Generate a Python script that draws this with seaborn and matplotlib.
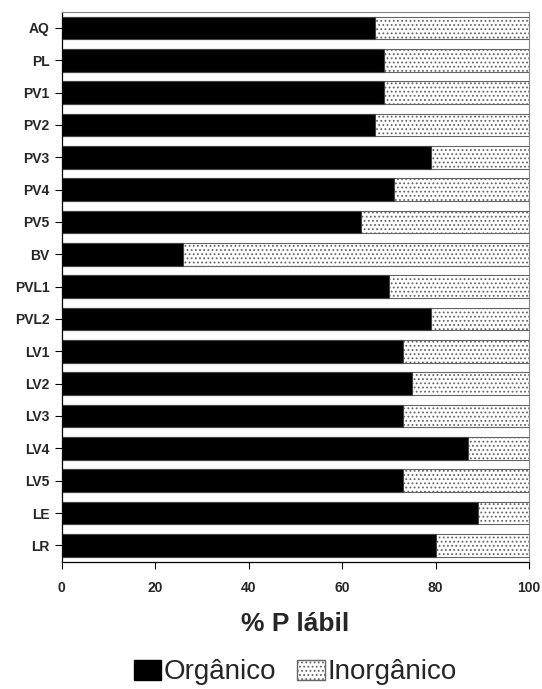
import matplotlib
matplotlib.use("Agg")
import matplotlib.pyplot as plt
import seaborn as sns
import pandas as pd
from matplotlib.patches import Patch

categories = ["AQ", "PL", "PV1", "PV2", "PV3", "PV4", "PV5", "BV", "PVL1", "PVL2",
              "LV1", "LV2", "LV3", "LV4", "LV5", "LE", "LR"]
organico = [67, 69, 69, 67, 79, 71, 64, 26, 70, 79, 73, 75, 73, 87, 73, 89, 80]
inorganico = [100 - v for v in organico]
xticks = [0, 20, 40, 60, 80, 100]

sns.set_style("white")
plt.rcParams['font.family'] = ['Liberation Sans', 'DejaVu Sans']
plt.rcParams['hatch.color'] = '#555555'
plt.rcParams['hatch.linewidth'] = 0.8

df = pd.DataFrame({"cat": categories, "org": organico, "inorg": inorganico})
df["total"] = df["org"] + df["inorg"]

fig = plt.figure(figsize=(5.42, 6.89), dpi=100)
ax = fig.add_axes([0.114, 0.185, 0.862, 0.798])

sns.barplot(data=df, y="cat", x="total", orient="h", color="white", width=0.7,
            edgecolor="#666666", linewidth=0.8, hatch="....", ax=ax)
sns.barplot(data=df, y="cat", x="org", orient="h", color="black", width=0.7,
            edgecolor="#444444", linewidth=0.8, ax=ax)

ax.set_xlim(0, 100)
ax.set_ylim(len(categories) - 0.5, -0.5)
ax.set_xticks(xticks)
ax.set_xticklabels([str(t) for t in xticks], fontsize=10, fontweight='bold')
ax.set_yticks(range(len(categories)))
ax.set_yticklabels(categories, fontsize=10, fontweight='bold')
ax.tick_params(axis='both', which='both', direction='out', length=5, width=0.8,
               color='black', left=True, bottom=True, pad=4)
ax.tick_params(axis='x', pad=9)
ax.set_ylabel("")
ax.set_xlabel("% P lábil", fontsize=19, fontweight='bold', labelpad=12)

for s in ["top", "right"]:
    ax.spines[s].set_color("#888888")
    ax.spines[s].set_linewidth(0.8)
ax.spines["top"].set_linestyle((0, (2, 1)))
for s in ["left", "bottom"]:
    ax.spines[s].set_color("black")
    ax.spines[s].set_linewidth(0.9)

handles = [Patch(facecolor="black", edgecolor="black", label="Orgânico"),
           Patch(facecolor="white", edgecolor="#666666", hatch="....", label="Inorgânico")]
fig.legend(handles=handles, loc="center", bbox_to_anchor=(0.545, 0.024), ncol=2,
           frameon=False, fontsize=20, handlelength=1.0, handleheight=0.72,
           handletextpad=0.1, columnspacing=0.75, borderpad=0, borderaxespad=0)

fig.savefig("out.png", dpi=100)
